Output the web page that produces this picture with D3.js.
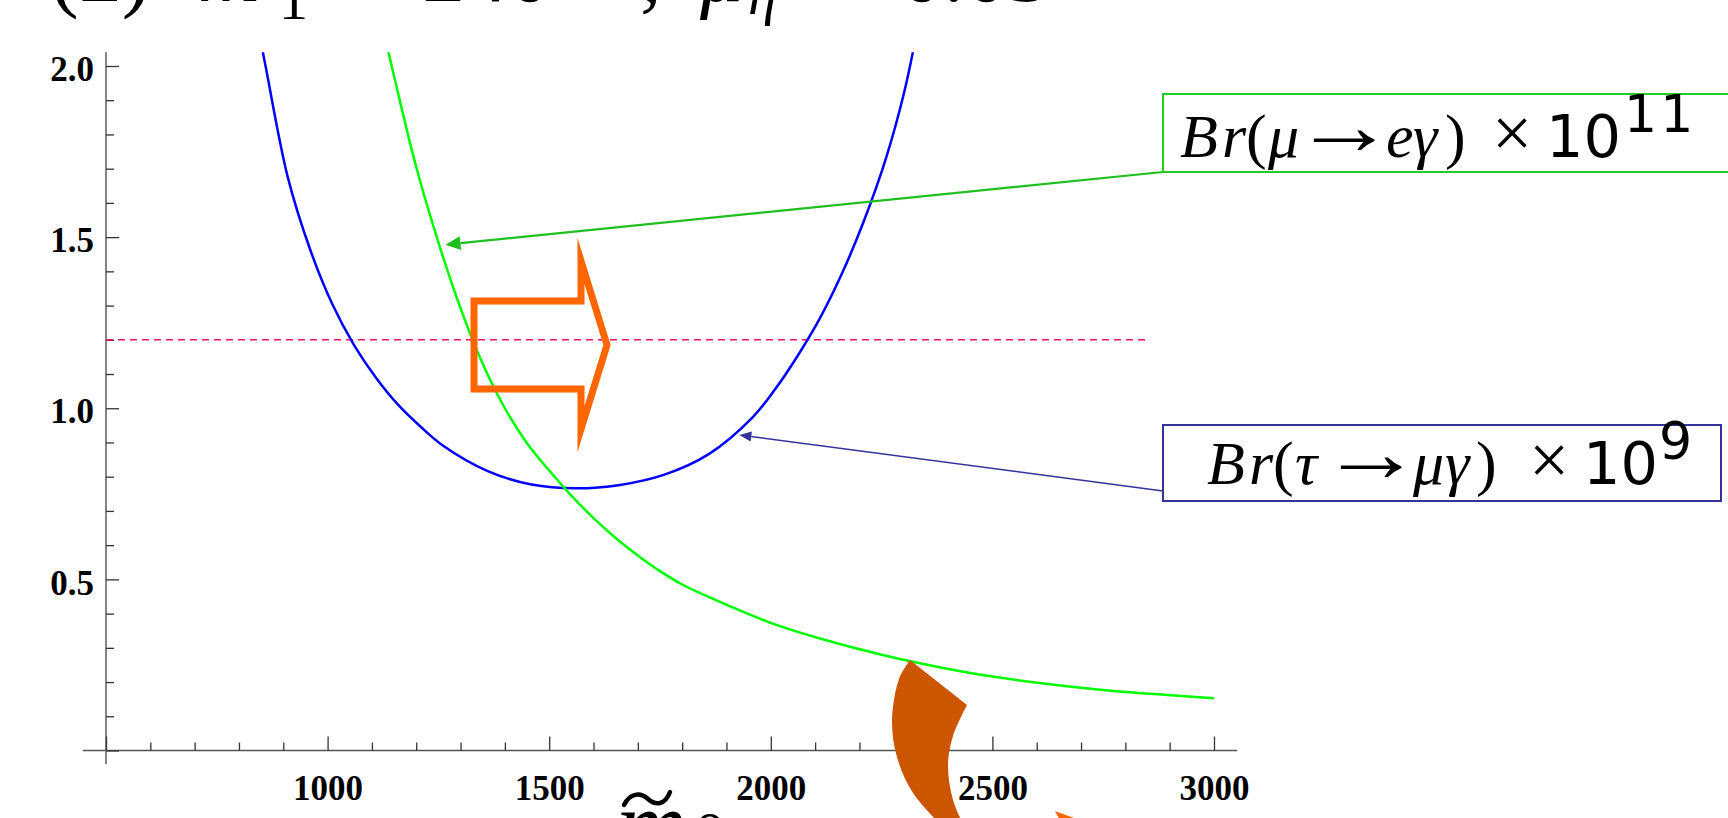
<!DOCTYPE html>
<html>
<head>
<meta charset="utf-8">
<script src="https://cdn.jsdelivr.net/npm/d3@7"></script>
<style>
  html, body { margin: 0; padding: 0; background: #fff; overflow: hidden; }
  svg { display: block; }
</style>
</head>
<body>
<svg id="chart" width="1728" height="818"></svg>
<script>
// Scalar mass m0 (GeV) sample points and the two branching ratios
const muEGammaM0 = [1120, 1150, 1200, 1250, 1300, 1350, 1400, 1450, 1500, 1550, 1600, 1650, 1700,
                    1750, 1800, 1875, 2000, 2125, 2250, 2375, 2500, 2625, 2750, 2875, 3000];
const muEGammaBr = [2.14, 1.97, 1.705, 1.485, 1.292, 1.130, 1.000, 0.898, 0.818, 0.745, 0.679, 0.621, 0.570,
                    0.524, 0.485, 0.440, 0.373, 0.322, 0.280, 0.245, 0.216, 0.194, 0.177, 0.164, 0.153];

const tauMuGammaM0 = [840, 860, 910, 960, 1010, 1060, 1110, 1160, 1210, 1260, 1360, 1460, 1560,
                      1660, 1760, 1860, 1960, 2010, 2060, 2110, 2160, 2210, 2260, 2300, 2330];
const tauMuGammaBr = [2.134, 2.000, 1.676, 1.466, 1.306, 1.184, 1.088, 1.009, 0.946, 0.891, 0.817, 0.777, 0.766,
                      0.776, 0.806, 0.866, 0.975, 1.056, 1.152, 1.261, 1.392, 1.547, 1.731, 1.918, 2.102];

// Experimental bound line
const boundValue = 1.2;
const boundRange = [500, 2850];

// Axis ticks
const xMajorTicks = [500, 1000, 1500, 2000, 2500, 3000];
const xMajorLabels = ["", "1000", "1500", "2000", "2500", "3000"];
const xMinorTicks = [600, 700, 800, 900, 1100, 1200, 1300, 1400, 1600, 1700, 1800, 1900,
                     2100, 2200, 2300, 2400, 2600, 2700, 2800, 2900];
const yMajorTicks = [0, 0.5, 1.0, 1.5, 2.0];
const yMajorLabels = ["", "0.5", "1.0", "1.5", "2.0"];
const yMinorTicks = [0.1, 0.2, 0.3, 0.4, 0.6, 0.7, 0.8, 0.9, 1.1, 1.2, 1.3, 1.4, 1.6, 1.7, 1.8, 1.9];
const xAxisExtent = [448, 3052];
const yAxisExtent = [-0.04, 2.04];

// Legend callouts: label pieces [text, kind, x offset from box text start]
const muLabel = [["B", "i", 0], ["r", "i", 42], ["(", "r", 66], ["μ", "i", 88], ["→", "a", 113],
                 ["e", "i", 206], ["γ", "i", 233], [")", "r", 265], ["×", "x", 312], ["10", "s", 366]];
const muExponent = ["11", 444];
const muTarget = [1266, 1.478];
const tauLabel = [["B", "i", 0], ["r", "i", 42], ["(", "r", 66], ["τ", "i", 88], ["→", "a", 113],
                  ["μ", "i", 206], ["γ", "i", 238], [")", "r", 269], ["×", "x", 322], ["10", "s", 376]];
const tauExponent = ["9", 452];
const tauTarget = [1929, 0.922];

const svg = d3.select("#chart");
const x = d3.scaleLinear().domain([500, 3000]).range([106, 1214]);
const y = d3.scaleLinear().domain([0, 2]).range([750.5, 66]);

const serif = "'Liberation Serif', 'Times New Roman', serif";
const sans = "'DejaVu Sans', sans-serif";

// ---------- slide header (runs off the top edge) ----------
const header = svg.append("g").attr("fill", "#000").style("font-family", serif).attr("font-size", 86);
header.append("text").attr("x", 50).attr("y", 1).text("(2)");
header.append("text").attr("x", 198).attr("y", 1).attr("font-style", "italic").text("m");
header.append("text").attr("x", 279).attr("y", 19).attr("font-size", 58).text("1");
header.append("text").attr("x", 352).attr("y", 1).text("= 240");
header.append("text").attr("x", 640).attr("y", 1).text(",");
header.append("text").attr("x", 700).attr("y", 1).attr("font-style", "italic").text("μ");
header.append("text").attr("x", 748).attr("y", 14).attr("font-size", 58).attr("font-style", "italic").text("η");
header.append("text").attr("x", 830).attr("y", 1).text("= 0.05");

// ---------- axes ----------
const axes = svg.append("g");
axes.append("line")
  .attr("x1", x(xAxisExtent[0])).attr("x2", x(xAxisExtent[1]))
  .attr("y1", y(0)).attr("y2", y(0))
  .attr("stroke", "#555").attr("stroke-width", 1.6);
axes.append("line")
  .attr("x1", x(500)).attr("x2", x(500))
  .attr("y1", y(yAxisExtent[0])).attr("y2", y(yAxisExtent[1]))
  .attr("stroke", "#777").attr("stroke-width", 1.8);

function styleAxis(g) {
  g.select(".domain").remove();
  g.selectAll(".tick line").attr("stroke", "#333").attr("stroke-width", 1.3);
  g.selectAll(".tick text").attr("fill", "#000")
    .style("font-family", serif).attr("font-size", 35).attr("font-weight", "bold");
}

axes.append("g").attr("transform", `translate(0,${y(0)})`)
  .call(d3.axisBottom(x).tickValues(xMajorTicks)
    .tickFormat((d, i) => xMajorLabels[i]).tickSizeInner(-14).tickSizeOuter(0).tickPadding(25))
  .call(styleAxis);
axes.append("g").attr("transform", `translate(0,${y(0)})`)
  .call(d3.axisBottom(x).tickValues(xMinorTicks).tickFormat("").tickSizeInner(-8).tickSizeOuter(0))
  .call(styleAxis);
axes.append("g").attr("transform", `translate(${x(500)},0)`)
  .call(d3.axisLeft(y).tickValues(yMajorTicks)
    .tickFormat((d, i) => yMajorLabels[i]).tickSizeInner(-13).tickSizeOuter(0).tickPadding(12))
  .call(styleAxis)
  .call(g => g.selectAll(".tick text").attr("dy", "0.42em"));
axes.append("g").attr("transform", `translate(${x(500)},0)`)
  .call(d3.axisLeft(y).tickValues(yMinorTicks).tickFormat("").tickSizeInner(-8).tickSizeOuter(0))
  .call(styleAxis);

// ---------- curves ----------
svg.append("clipPath").attr("id", "plotClip")
  .append("rect")
  .attr("x", x(xAxisExtent[0])).attr("y", y(yAxisExtent[1]))
  .attr("width", x(xAxisExtent[1]) - x(xAxisExtent[0]))
  .attr("height", y(yAxisExtent[0]) - y(yAxisExtent[1]));

const line = d3.line().x(d => x(d[0])).y(d => y(d[1])).curve(d3.curveCatmullRom);
const plot = svg.append("g").attr("clip-path", "url(#plotClip)");

plot.append("line")
  .attr("x1", x(boundRange[0])).attr("x2", x(boundRange[1]))
  .attr("y1", y(boundValue)).attr("y2", y(boundValue))
  .attr("stroke", "#ff1166").attr("stroke-width", 1.6).attr("stroke-dasharray", "7,5");

plot.append("path")
  .datum(tauMuGammaM0.map((m, i) => [m, tauMuGammaBr[i]]))
  .attr("d", line).attr("fill", "none").attr("stroke", "#0000ff").attr("stroke-width", 2.5);

plot.append("path")
  .datum(muEGammaM0.map((m, i) => [m, muEGammaBr[i]]))
  .attr("d", line).attr("fill", "none").attr("stroke", "#00ff00").attr("stroke-width", 2.5);

// ---------- callouts ----------
function callout(cfg) {
  const g = svg.append("g");
  const [tx, ty] = [x(cfg.target[0]), y(cfg.target[1])];
  const [ax, ay] = cfg.anchor;
  const ang = Math.atan2(ay - ty, ax - tx);
  const len = cfg.headLen, half = cfg.headHalf;
  const bx = tx + Math.cos(ang) * len, by = ty + Math.sin(ang) * len;
  g.append("line").attr("x1", ax).attr("y1", ay).attr("x2", bx).attr("y2", by)
    .attr("stroke", cfg.lineColor).attr("stroke-width", cfg.lineWidth);
  g.append("polygon")
    .attr("points", [
      [tx, ty],
      [bx - Math.sin(ang) * half, by + Math.cos(ang) * half],
      [bx + Math.sin(ang) * half, by - Math.cos(ang) * half]
    ].map(p => p.join(",")).join(" "))
    .attr("fill", cfg.lineColor);
  g.append("rect").attr("x", cfg.box[0]).attr("y", cfg.box[1])
    .attr("width", cfg.box[2]).attr("height", cfg.box[3])
    .attr("fill", "#fff").attr("stroke", cfg.boxColor).attr("stroke-width", 2);
  const t = g.append("text").attr("y", cfg.textY)
    .attr("fill", "#000").attr("font-size", cfg.fontSize).style("font-family", serif);
  cfg.pieces.forEach(([s, k, dx]) => {
    if (k === "a") {
      // long relation arrow: thin serif glyph, stretched and lifted to the math axis
      g.append("text")
        .attr("transform", `translate(${cfg.textX + dx},${cfg.textY - 3}) scale(1.65,1.35)`)
        .attr("fill", "#000").style("font-family", serif).attr("font-size", cfg.fontSize).text(s);
      return;
    }
    const sp = t.append("tspan").attr("x", cfg.textX + dx).text(s);
    if (k === "i") sp.attr("font-style", "italic");
    if (k === "x") sp.attr("font-size", cfg.fontSize * 1.15);
    if (k === "s") sp.style("font-family", sans).attr("font-size", cfg.fontSize * 0.95);
  });
  g.append("text").attr("x", cfg.textX + cfg.exponent[1]).attr("y", cfg.textY - cfg.fontSize * 0.4)
    .attr("fill", "#000").style("font-family", sans)
    .attr("font-size", cfg.fontSize * 0.84).attr("letter-spacing", 3).text(cfg.exponent[0]);
}

callout({
  target: muTarget, anchor: [1163, 172], headLen: 15, headHalf: 7,
  lineColor: "#1fbf1f", lineWidth: 2.2, boxColor: "#22cc22",
  box: [1163, 94, 600, 78], textX: 1180, textY: 157, fontSize: 62,
  pieces: muLabel, exponent: muExponent
});
callout({
  target: tauTarget, anchor: [1163, 491], headLen: 12, headHalf: 5,
  lineColor: "#333399", lineWidth: 1.6, boxColor: "#333399",
  box: [1163, 425, 558, 76], textX: 1207, textY: 484, fontSize: 62,
  pieces: tauLabel, exponent: tauExponent
});

// ---------- slide decorations ----------
// hollow block arrow pointing to larger m0
const blockArrow = [[474, 301], [581, 301], [581, 261], [607, 345], [581, 429], [581, 389], [474, 389]];
svg.append("polygon")
  .attr("points", blockArrow.map(p => p.join(",")).join(" "))
  .attr("fill", "none").attr("stroke", "#ff6600").attr("stroke-width", 7)
  .attr("stroke-linejoin", "miter").attr("stroke-miterlimit", 10);

// curved swoosh running off the bottom edge
const swooshOuter = [[910, 660], [899, 679], [892, 721], [897, 757], [913, 793], [946, 830]];
const swooshInner = [[966, 830], [953, 800], [948, 764], [953, 736], [967, 705]];
const smooth = d3.line().curve(d3.curveCatmullRom);
svg.append("path")
  .attr("d", smooth(swooshOuter) + "L" + smooth(swooshInner).slice(1) + "Z")
  .attr("fill", "#cc5500");
svg.append("polygon")
  .attr("points", "1055,811 1112,832 1066,832")
  .attr("fill", "#ff6600");

// x-axis title m̃0 (cut by the bottom edge)
svg.append("text").attr("x", 616).attr("y", 857).attr("font-size", 98)
  .attr("font-style", "italic").style("font-family", serif).attr("fill", "#000").text("m");
svg.append("text").attr("x", 694).attr("y", 856).attr("font-size", 64)
  .style("font-family", serif).attr("fill", "#000").text("0");
svg.append("path")
  .attr("d", "M624,805 C630,793 640,792 648,799 C656,806 665,805 670,792")
  .attr("fill", "none").attr("stroke", "#000").attr("stroke-width", 4.5).attr("stroke-linecap", "round");
</script>
</body>
</html>
